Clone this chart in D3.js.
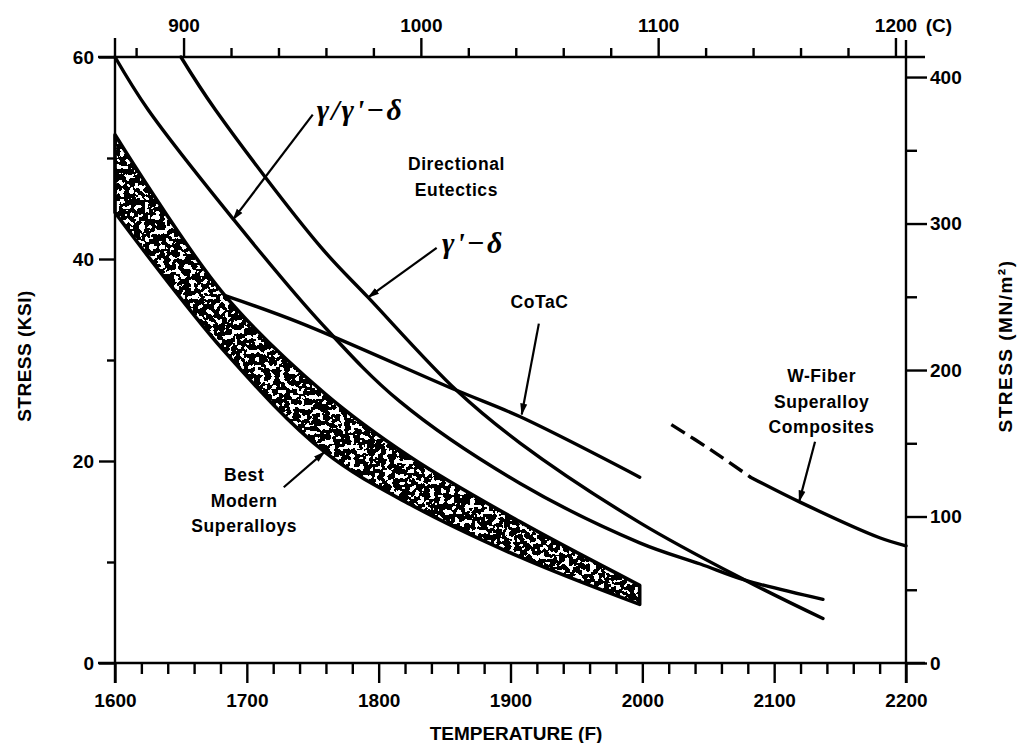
<!DOCTYPE html>
<html>
<head>
<meta charset="utf-8">
<script src="https://cdn.jsdelivr.net/npm/d3@7"></script>
<style>
  body { margin: 0; background: #fff; }
  svg { display: block; }
  text { font-family: "Liberation Sans", Arial, Helvetica, sans-serif; font-weight: bold; fill: #000; }
</style>
</head>
<body>
<svg id="chart" width="1017" height="743"></svg>
<script>
// ---- data (temperature in °F, stress in ksi) ----
const tempTicksF = [1600, 1700, 1800, 1900, 2000, 2100, 2200];
const tempTicksC = [900, 1000, 1100, 1200];
const ksiTicks = [0, 20, 40, 60];
const ksiMinor = [10, 30, 50];
const mpaTicks = [0, 100, 200, 300, 400];
const mpaMinor = [50, 150, 250, 350];

// Best modern superalloys scatter band: upper and lower edges
const bandUpper = [[1600, 52.3], [1682, 36.6], [1759, 26.7], [1824, 20.4], [1907, 14.0], [1998, 7.7]];
const bandLower = [[1600, 44.6], [1682, 31.0], [1759, 20.9], [1824, 15.7], [1907, 10.5], [1998, 5.8]];

// directional eutectics
const gammaGammaPrimeDelta = [[1600, 60], [1625, 54.8], [1690, 43.9], [1756, 33.7], [1816, 25.9],
                              [1907, 17.8], [1998, 11.9], [2044, 9.8], [2078, 8.2], [2137, 6.3]];
const gammaPrimeDelta = [[1650, 60], [1676, 54.8], [1756, 41.2], [1792, 36.2], [1859, 27.0],
                         [1907, 21.8], [1998, 13.9], [2078, 8.2], [2137, 4.4]];
const coTaC = [[1683, 36.4], [1740, 33.7], [1859, 27.0], [1907, 24.4], [1998, 18.4]];

// W-fiber superalloy composites: projected (dashed) and measured (solid)
const wFiberProjected = [[2022, 23.6], [2052, 21.1], [2082, 18.4]];
const wFiberMeasured = [[2082, 18.4], [2120, 15.9], [2180, 12.4], [2200, 11.6]];

// annotations: text lines, anchor (°F, ksi), arrow from -> to (°F, ksi)
const notes = [
  { lines: ["Directional", "Eutectics"], at: [1859, 48.8] },
  { lines: ["CoTaC"], at: [1922, 35.1], from: [1921.5, 33.6], to: [1908.5, 24.6] },
  { lines: ["Best", "Modern", "Superalloys"], at: [1698, 18.0], from: [1728, 17.4], to: [1759, 20.9] },
  { lines: ["W-Fiber", "Superalloy", "Composites"], at: [2136, 27.8], from: [2131, 21.9], to: [2119, 16.0] }
];
const greekNotes = [
  { text: "γ/γ'−δ", at: [1753, 53.8], from: [1750, 54.3], to: [1689.5, 43.9] },
  { text: "γ'−δ", at: [1848, 40.6], from: [1844, 41.1], to: [1792, 36.2] }
];

const KSI_TO_MPA = 6.894757;

// ---- scales ----
const svg = d3.select("#chart");
const x = d3.scaleLinear().domain([1600, 2200]).range([115, 906]);
const y = d3.scaleLinear().domain([0, 60]).range([663, 57]);
const toC = f => (f - 32) / 1.8;
const xc = d3.scaleLinear().domain(x.domain().map(toC)).range(x.range());
const yr = d3.scaleLinear().domain(y.domain().map(v => v * KSI_TO_MPA)).range(y.range());

// ---- defs: speckle texture and arrow heads ----
const defs = svg.append("defs");
const filt = defs.append("filter").attr("id", "speckle")
  .attr("filterUnits", "userSpaceOnUse").attr("x", 0).attr("y", 0)
  .attr("width", 1017).attr("height", 743)
  .attr("color-interpolation-filters", "sRGB");
filt.append("feTurbulence").attr("type", "fractalNoise").attr("baseFrequency", 0.2)
  .attr("numOctaves", 2).attr("seed", 11).attr("result", "noise");
filt.append("feColorMatrix").attr("in", "noise").attr("type", "matrix")
  .attr("values", "0 0 0 0 0  0 0 0 0 0  0 0 0 0 0  1 0 0 0 0").attr("result", "alpha");
filt.append("feComponentTransfer").attr("in", "alpha").attr("result", "mask")
  .append("feFuncA").attr("type", "discrete")
  .attr("tableValues", "0 0 0 0 0 0 0 0 0 1 1 1 1 1 1 1 1 1 1 1");
filt.append("feComposite").attr("in", "mask").attr("in2", "SourceGraphic").attr("operator", "in");

defs.append("marker").attr("id", "arrow")
  .attr("viewBox", "0 0 12 8").attr("refX", 11).attr("refY", 4)
  .attr("markerWidth", 12).attr("markerHeight", 8)
  .attr("markerUnits", "userSpaceOnUse").attr("orient", "auto")
  .append("path").attr("d", "M0,0.5L12,4L0,7.5Z").attr("fill", "#000");

// ---- axes ----
const AX = 2.4;
function styleAxis(g) {
  g.select(".domain").remove();
  g.selectAll("line").attr("stroke", "#000").attr("stroke-width", AX);
  g.selectAll("text").style("font-size", "19px").style("font-weight", "bold")
    .style("font-family", '"Liberation Sans", Arial, sans-serif').style("fill", "#000");
}

const minorF = d3.range(1600, 2201, 20).filter(v => v % 100 !== 0);
const minorC = d3.range(880, 1201, 20).filter(v => v % 100 !== 0);

// bottom (°F)
svg.append("g").attr("transform", `translate(0,${y(0)})`)
  .call(d3.axisBottom(x).tickValues(minorF).tickSize(11).tickFormat(""))
  .call(styleAxis);
svg.append("g").attr("transform", `translate(0,${y(0)})`)
  .call(d3.axisBottom(x).tickValues(tempTicksF).tickSize(20).tickPadding(11).tickFormat(d3.format("d")))
  .call(styleAxis);

// top (°C)
svg.append("g").attr("transform", `translate(0,${y(60)})`)
  .call(d3.axisTop(xc).tickValues(minorC).tickSize(9).tickFormat(""))
  .call(styleAxis);
svg.append("g").attr("transform", `translate(0,${y(60)})`)
  .call(d3.axisTop(xc).tickValues(tempTicksC).tickSize(19).tickPadding(6).tickFormat(d3.format("d")))
  .call(styleAxis);

// left (ksi)
svg.append("g").attr("transform", `translate(${x(1600)},0)`)
  .call(d3.axisLeft(y).tickValues(ksiMinor).tickSize(8).tickFormat(""))
  .call(styleAxis);
svg.append("g").attr("transform", `translate(${x(1600)},0)`)
  .call(d3.axisLeft(y).tickValues(ksiTicks).tickSize(16).tickPadding(5).tickFormat(d3.format("d")))
  .call(styleAxis);

// right (MN/m²)
svg.append("g").attr("transform", `translate(${x(2200)},0)`)
  .call(d3.axisRight(yr).tickValues(mpaMinor).tickSize(11).tickFormat(""))
  .call(styleAxis);
svg.append("g").attr("transform", `translate(${x(2200)},0)`)
  .call(d3.axisRight(yr).tickValues(mpaTicks).tickSize(21).tickPadding(3).tickFormat(d3.format("d")))
  .call(styleAxis);

// frame lines, extended past the corners
const frame = svg.append("g").attr("stroke", "#000").attr("stroke-width", AX).attr("fill", "none");
frame.append("line").attr("x1", x(1600) - 17).attr("x2", x(2200) + 19).attr("y1", y(0)).attr("y2", y(0));
frame.append("line").attr("x1", x(1600) - 17).attr("x2", x(2200) + 19).attr("y1", y(60)).attr("y2", y(60));
frame.append("line").attr("x1", x(1600)).attr("x2", x(1600)).attr("y1", y(60) - 19).attr("y2", y(0) + 20);
frame.append("line").attr("x1", x(2200)).attr("x2", x(2200)).attr("y1", y(60) - 17).attr("y2", y(0) + 20);

// axis titles
svg.append("text").attr("x", 516).attr("y", 740).attr("text-anchor", "middle")
  .style("font-size", "19px").text("TEMPERATURE (F)");
svg.append("text").attr("x", 939).attr("y", 32).attr("text-anchor", "middle")
  .style("font-size", "19px").text("(C)");
svg.append("text").attr("transform", "translate(31,356) rotate(-90)").attr("text-anchor", "middle")
  .style("font-size", "19px").style("letter-spacing", "0.5px").text("STRESS (KSI)");
svg.append("text").attr("transform", "translate(1012,346) rotate(-90)").attr("text-anchor", "middle")
  .style("font-size", "19px").style("letter-spacing", "1.5px").text("STRESS (MN/m²)");

// ---- marks ----
const line = d3.line().x(d => x(d[0])).y(d => y(d[1])).curve(d3.curveCatmullRom);

// superalloy band: speckled fill with a heavy outline
const up = line(bandUpper);
const lo = line(bandLower.slice().reverse());
const bandD = up + "L" + lo.slice(1) + "Z";
svg.append("path").attr("d", bandD).attr("fill", "#000").attr("filter", "url(#speckle)");
svg.append("path").attr("d", bandD).attr("fill", "none").attr("stroke", "#000")
  .attr("stroke-width", 3.6).attr("stroke-linejoin", "round");

const curves = svg.append("g").attr("fill", "none").attr("stroke", "#000")
  .attr("stroke-width", 3.4).attr("stroke-linecap", "round");
[gammaGammaPrimeDelta, gammaPrimeDelta, coTaC, wFiberMeasured].forEach(s =>
  curves.append("path").attr("d", line(s)));
curves.append("path").attr("d", line(wFiberProjected))
  .attr("stroke-dasharray", "16 7").attr("stroke-linecap", "butt");

// ---- annotations ----
const arrows = svg.append("g").attr("stroke", "#000").attr("stroke-width", 2.2).attr("fill", "none");
notes.concat(greekNotes).filter(n => n.from).forEach(n => {
  arrows.append("line")
    .attr("x1", x(n.from[0])).attr("y1", y(n.from[1]))
    .attr("x2", x(n.to[0])).attr("y2", y(n.to[1]))
    .attr("marker-end", "url(#arrow)");
});

notes.forEach(n => {
  const t = svg.append("text").attr("text-anchor", "middle")
    .style("font-size", "17.5px").style("letter-spacing", "0.6px")
    .attr("x", x(n.at[0])).attr("y", y(n.at[1]));
  n.lines.forEach((s, i) => t.append("tspan").attr("x", x(n.at[0])).attr("dy", i ? 25.5 : 0).text(s));
});

// phase labels set in an italic serif face
greekNotes.forEach(n => {
  svg.append("text").attr("x", x(n.at[0])).attr("y", y(n.at[1]))
    .style("font-family", '"Liberation Serif", "DejaVu Serif", serif')
    .style("font-style", "italic").style("font-weight", "bold")
    .style("font-size", "30px").style("letter-spacing", "2px")
    .text(n.text);
});
</script>
</body>
</html>
